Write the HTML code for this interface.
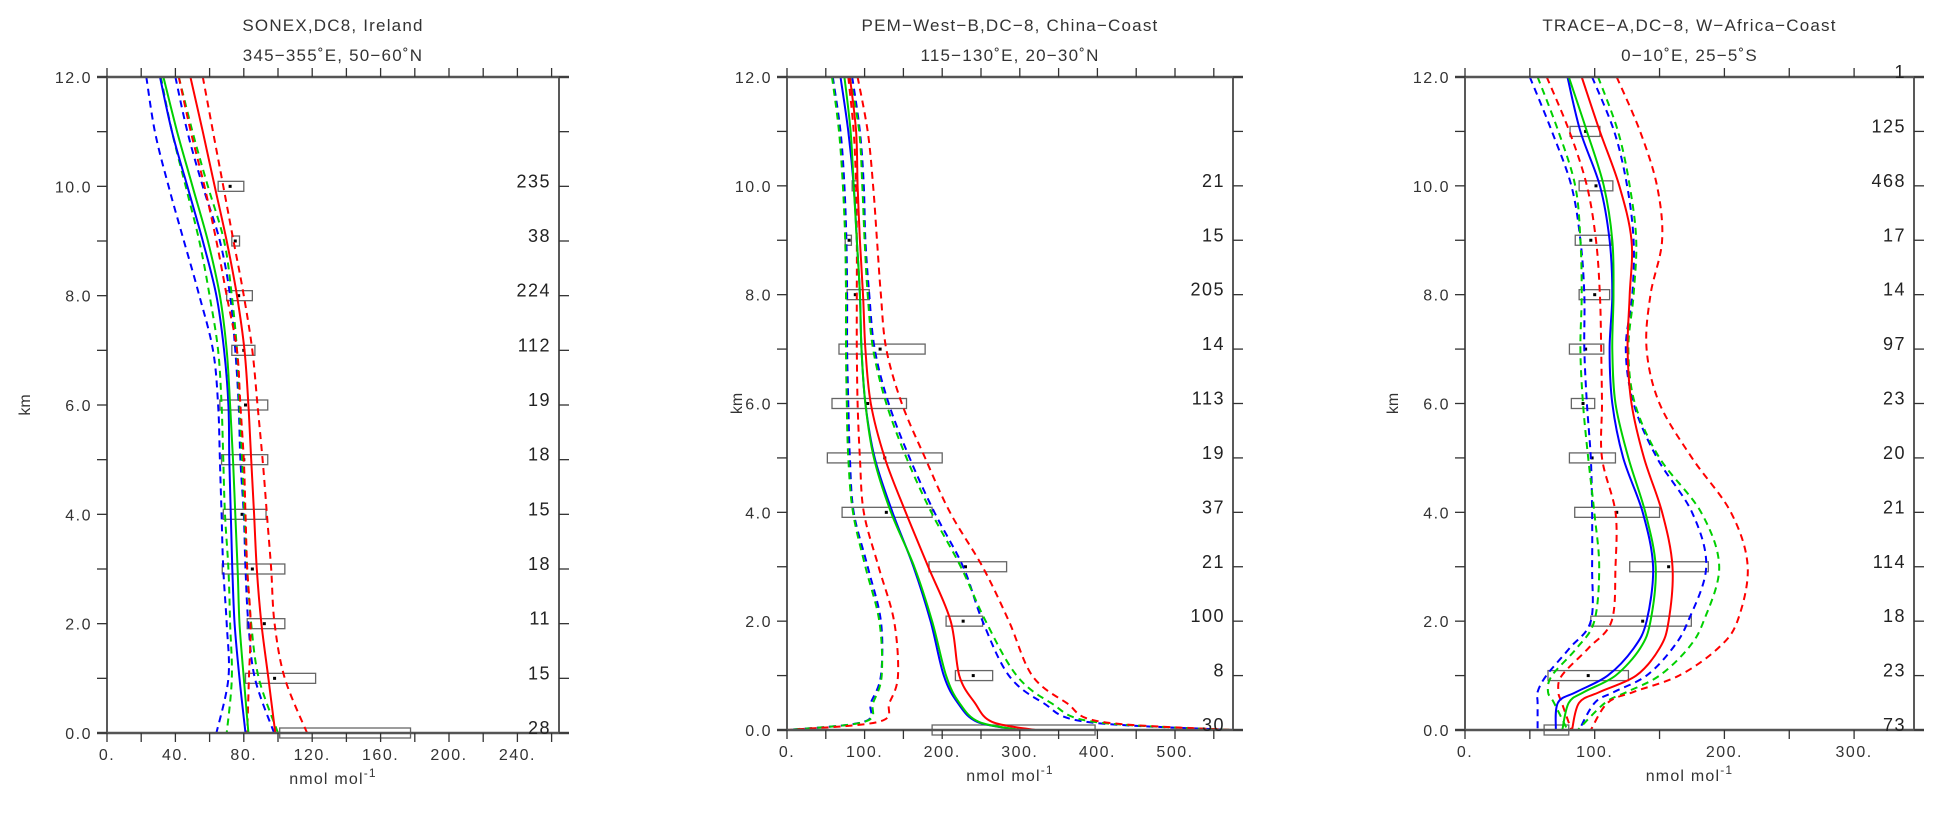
<!DOCTYPE html>
<html><head><meta charset="utf-8"><style>
html,body{margin:0;padding:0;background:#fff;}
svg{display:block;font-family:"Liberation Sans",sans-serif;}
</style></head><body>
<svg id="chart" width="1939" height="826" viewBox="0 0 1939 826" xmlns="http://www.w3.org/2000/svg"></svg>
<script>
// ---------- DATA ----------
const kmLevels = [12,11,10,9,8,7,6,5,4,3,2,1,0];
const kmLevelsP2 = [12,11,10,9,8,7,6,5,4,3,2,1,0.5,0.15,0];
const kmLevelsP3 = [12,11,10,9,8,7,6,5,4,3,2,1.5,1,0.7,0.5,0];

// Panel 1: SONEX
const p1BlueSolid  = [31,38,47,56,64,68.5,71,71.5,72.4,73.3,74.6,77.5,81];
const p1GreenSolid = [33,41,50,59,66,70,72,73.7,75,76.4,77.5,80,82.7];
const p1RedSolid   = [48.8,56,63,70,76,80.4,82.7,84.3,86,87.6,90.3,94.4,98.4];
const p1BlueLow    = [23,28,36,45,54,62,65,66,67,68,70,71,64];
const p1BlueHigh   = [40,47,56,66,72,75,77,78,80,81,82.7,86.5,97.7];
const p1GreenLow   = [31.5,38,46,54,60,65,67,68,69,71,72,73,70];
const p1GreenHigh  = [42,50,59,68.5,73,76,77.5,79,80.4,82,84.3,88.8,100];
const p1RedLow     = [42,49,57,64,70,76,78,80,81,82,84,83,82];
const p1RedHigh    = [56,62,68,74,80,85,88,91,93.5,96,98,104,117];
const p1BoxKm   = [10,9,8,7,6,5,4,3,2,1,0];
const p1BoxLo   = [65,73,70,73,66,67,68,67.4,82,81,101];
const p1BoxHi   = [80,77.5,85,86.5,94,94,93,104,104,122,177.5];
const p1BoxMid  = [72,75,77,80,81,80,79,85,92,98,null];
const p1CountKm = [10,9,8,7,6,5,4,3,2,1,0];
const p1Counts  = ["235","38","224","112","19","18","15","18","11","15","28"];
const p1XTicks  = [0,40,80,120,160,200,240];
const p1XLabels = ["0.","40.","80.","120.","160.","200.","240."];

// Panel 2: PEM-West-B
const p2BlueSolid  = [69,79,86,90,94,96,101,113,136,163,185,202,220,245,300];
const p2GreenSolid = [74,82,86,90,94,96,101,112,134,164,187,205,222,247,300];
const p2RedSolid   = [81,89,91,94,98,101,108,126,153,182,211,222,242,264,320];
const p2BlueLow    = [59,69,74,76.5,77.5,77.5,79,81,86,104,121,121,108,99,0];
const p2GreenLow   = [58,67,72,75,76,76,77,79,85,101,119,122,111,100,0];
const p2RedLow     = [79,86,89,90,90,90,91,94,99,118,138,143,132,118,0];
const p2BlueHigh   = [84,94,99,101,106,113,131,158,190,227,252,286,330,385,575];
const p2GreenHigh  = [81,93,97,100,104,111,128,154,186,224,256,296,340,395,575];
const p2RedHigh    = [91,104,111,116,121,128,148,178,210,252,286,316,360,405,575];
const p2BoxKm   = [10,9,8,7,6,5,4,3,2,1,0];
const p2BoxLo   = [84,75,77.5,67,58,52,71,183,205,217,187];
const p2BoxHi   = [91,83,106,178,154,200,187,283,252,265,397];
const p2BoxMid  = [88,80,88,120,104,126,128,230,227,240,null];
const p2CountKm = [10,9,8,7,6,5,4,3,2,1,0];
const p2Counts  = ["21","15","205","14","113","19","37","21","100","8","30"];
const p2XTicks  = [0,100,200,300,400,500];
const p2XLabels = ["0.","100.","200.","300.","400.","500."];

// Panel 3: TRACE-A
const p3BlueSolid  = [79,89,104,111.5,113.6,111.5,113.6,122,137,145,140,130,110,86,71.6,70];
const p3GreenSolid = [80,94,107,113.6,114.5,113.6,116,126,139,147,143,135,116,92,80,75];
const p3RedSolid   = [90,104,119,128.4,127,125.4,128.4,138,152,160,157,150,132,104,88,82.5];
const p3BlueLow    = [50,67,82,89,92,92,94,97,98,98,97,80.5,62.7,56,56,56];
const p3GreenLow   = [56,72,85,89,90,89,91,95,99.7,103.5,99.7,86,67,64,68.6,79];
const p3RedLow     = [63,80.5,94,101,104,105,105.6,105.6,116,116,113,95,74.6,72,74.6,82];
const p3BlueHigh   = [98,115,125,130,129,124,130,148,175,186,172,160,140,115,100,88];
const p3GreenHigh  = [102.6,118,127,132,130,126,131,150,182,196,184,172,150,125,108,87];
const p3RedHigh    = [117,135,148,152,143,140,150,175,205,218,210,195,165,130,110,97];
const p3BoxKm   = [11,10,9,8,7,6,5,4,3,2,1,0];
const p3BoxLo   = [81,88,85,88,80.5,82,80.5,84.6,127,97,64,61];
const p3BoxHi   = [104,114,113,111.5,107,100,116,150,187.6,174.5,126,80];
const p3BoxMid  = [93,101,97,100,93,91,98,117,157,137,95,null];
const p3CountKm = [12,11,10,9,8,7,6,5,4,3,2,1,0];
const p3Counts  = ["1","125","468","17","14","97","23","20","21","114","18","23","73"];
const p3XTicks  = [0,100,200,300];
const p3XLabels = ["0.","100.","200.","300."];

const yTicks  = [0,2,4,6,8,10,12];
const yLabels = ["0.0","2.0","4.0","6.0","8.0","10.0","12.0"];

// ---------- DRAW ----------
const NS = "http://www.w3.org/2000/svg";
const svg = document.getElementById("chart");
function mk(tag, attrs, parent){
  const e = document.createElementNS(NS, tag);
  for (const k in attrs) e.setAttribute(k, attrs[k]);
  (parent||svg).appendChild(e);
  return e;
}
function smoothPath(pts){
  let d = "M" + pts[0][0].toFixed(1) + "," + pts[0][1].toFixed(1);
  for (let i=0;i<pts.length-1;i++){
    const p0 = pts[Math.max(0,i-1)], p1 = pts[i], p2 = pts[i+1], p3 = pts[Math.min(pts.length-1,i+2)];
    const c1x = p1[0]+(p2[0]-p0[0])/6, c1y = p1[1]+(p2[1]-p0[1])/6;
    const c2x = p2[0]-(p3[0]-p1[0])/6, c2y = p2[1]-(p3[1]-p1[1])/6;
    d += " C"+c1x.toFixed(1)+","+c1y.toFixed(1)+" "+c2x.toFixed(1)+","+c2y.toFixed(1)+" "+p2[0].toFixed(1)+","+p2[1].toFixed(1);
  }
  return d;
}

const panels = [
  {id:"sonex", x0:107, x1:559, yt:77, yb:733, k:1.71, minor:20, title1:"SONEX,DC8, Ireland", title2:"345\u2212355\u02daE, 50\u221260\u02daN",
   km:kmLevels, series:[[p1BlueLow,"#0000ff",1],[p1BlueHigh,"#0000ff",1],[p1GreenLow,"#00d000",1],[p1GreenHigh,"#00d000",1],[p1RedLow,"#ff0000",1],[p1RedHigh,"#ff0000",1],[p1BlueSolid,"#0000ff",0],[p1GreenSolid,"#00d000",0],[p1RedSolid,"#ff0000",0]],
   boxKm:p1BoxKm, boxLo:p1BoxLo, boxHi:p1BoxHi, boxMid:p1BoxMid, countKm:p1CountKm, counts:p1Counts, xt:p1XTicks, xl:p1XLabels, kmX:30},
  {id:"pem-west-b", x0:787, x1:1233, yt:77, yb:730, k:0.776, minor:50, title1:"PEM\u2212West\u2212B,DC\u22128, China\u2212Coast", title2:"115\u2212130\u02daE, 20\u221230\u02daN",
   km:kmLevelsP2, series:[[p2BlueLow,"#0000ff",1],[p2BlueHigh,"#0000ff",1],[p2GreenLow,"#00d000",1],[p2GreenHigh,"#00d000",1],[p2RedLow,"#ff0000",1],[p2RedHigh,"#ff0000",1],[p2BlueSolid,"#0000ff",0],[p2GreenSolid,"#00d000",0],[p2RedSolid,"#ff0000",0]],
   boxKm:p2BoxKm, boxLo:p2BoxLo, boxHi:p2BoxHi, boxMid:p2BoxMid, countKm:p2CountKm, counts:p2Counts, xt:p2XTicks, xl:p2XLabels, kmX:742},
  {id:"trace-a", x0:1465, x1:1914, yt:77, yb:730, k:1.297, minor:50, title1:"TRACE\u2212A,DC\u22128, W\u2212Africa\u2212Coast", title2:"0\u221210\u02daE, 25\u22125\u02daS",
   km:kmLevelsP3, series:[[p3BlueLow,"#0000ff",1],[p3BlueHigh,"#0000ff",1],[p3GreenLow,"#00d000",1],[p3GreenHigh,"#00d000",1],[p3RedLow,"#ff0000",1],[p3RedHigh,"#ff0000",1],[p3BlueSolid,"#0000ff",0],[p3GreenSolid,"#00d000",0],[p3RedSolid,"#ff0000",0]],
   boxKm:p3BoxKm, boxLo:p3BoxLo, boxHi:p3BoxHi, boxMid:p3BoxMid, countKm:p3CountKm, counts:p3Counts, xt:p3XTicks, xl:p3XLabels, kmX:1398}
];
const seriesNames = ["blue-lower-dashed","blue-upper-dashed","green-lower-dashed","green-upper-dashed","red-lower-dashed","red-upper-dashed","blue-mean-line","green-mean-line","red-mean-line"];

panels.forEach(P=>{
  const g = mk("g",{});
  
  
  const X = v => P.x0 + v*P.k;
  const Y = km => P.yb - km*(P.yb-P.yt)/12;
  const cx = (P.x0+P.x1)/2;
  const xmax = (P.x1-P.x0)/P.k;

  let t = mk("text",{x:cx,y:31,"text-anchor":"middle","font-size":17,fill:"#333","letter-spacing":"1.2"},g);
  t.textContent = P.title1;
  
  
  t = mk("text",{x:cx,y:61,"text-anchor":"middle","font-size":17,fill:"#333","letter-spacing":"1.2"},g);
  t.textContent = P.title2;
  
  

  // boxes
  P.boxKm.forEach((km,i)=>{
    const r = mk("rect",{x:X(P.boxLo[i]),y:Y(km)-5,width:X(P.boxHi[i])-X(P.boxLo[i]),height:10,fill:"none",stroke:"#666","stroke-width":1.3},g);
    
    
    if (P.boxMid[i]!==null){
      const d = mk("rect",{x:X(P.boxMid[i])-1.5,y:Y(km)-1.5,width:3,height:3,fill:"#000"},g);
      
      
    }
  });

  // curves
  P.series.forEach((s,si)=>{
    const pts = s[0].map((v,i)=>[X(Math.min(v,xmax)),Y(P.km[i])]);
    const p = mk("path",{d:smoothPath(pts),fill:"none",stroke:s[1],"stroke-width":2},g);
    if (s[2]) p.setAttribute("stroke-dasharray","7 5");
    
    
  });

  // frame
  let l = mk("line",{x1:P.x0,y1:P.yt,x2:P.x0,y2:P.yb,stroke:"#222","stroke-width":1.5},g);
  
  
  l = mk("line",{x1:P.x1,y1:P.yt,x2:P.x1,y2:P.yb,stroke:"#222","stroke-width":1.5},g);
  
  
  l = mk("line",{x1:P.x0-10,y1:P.yt,x2:P.x1+10,y2:P.yt,stroke:"#555","stroke-width":2.5},g);
  
  
  l = mk("line",{x1:P.x0-10,y1:P.yb,x2:P.x1+10,y2:P.yb,stroke:"#555","stroke-width":2.5},g);
  
  

  // y ticks
  for (let km=0; km<=12; km++){
    const y = Y(km);
    mk("line",{x1:P.x0-10,y1:y,x2:P.x0,y2:y,stroke:"#333","stroke-width":1.3},g);
    mk("line",{x1:P.x1,y1:y,x2:P.x1+10,y2:y,stroke:"#333","stroke-width":1.3},g);
  }
  yTicks.forEach((km,i)=>{
    const tl = mk("text",{x:P.x0-15,y:Y(km)+6,"text-anchor":"end","font-size":16,fill:"#333","letter-spacing":"1.5"},g);
    tl.textContent = yLabels[i];
    
    
  });
  // x ticks
  for (let v=0; v<=xmax+0.01; v+=P.minor){
    const x = X(v);
    mk("line",{x1:x,y1:P.yb,x2:x,y2:P.yb+9,stroke:"#333","stroke-width":1.3},g);
    mk("line",{x1:x,y1:P.yt-9,x2:x,y2:P.yt,stroke:"#333","stroke-width":1.3},g);
  }
  P.xt.forEach((v,i)=>{
    const tl = mk("text",{x:X(v),y:P.yb+27,"text-anchor":"middle","font-size":16,fill:"#333","letter-spacing":"1.5"},g);
    tl.textContent = P.xl[i];
    
    
  });
  // counts
  P.countKm.forEach((km,i)=>{
    const tc = mk("text",{x:P.x1-8,y:Y(km)+1,"text-anchor":"end","font-size":18,fill:"#222","letter-spacing":"1.5"},g);
    tc.textContent = P.counts[i];
    
    
  });
  // axis titles
  const xt = mk("text",{x:cx,y:P.yb+51,"text-anchor":"middle","font-size":16,fill:"#333","letter-spacing":"1.2"},g);
  xt.innerHTML = 'nmol mol<tspan dy="-7" font-size="12">-1</tspan>';
  
  
  const ym = (P.yt+P.yb)/2;
  const yt = mk("text",{x:P.kmX,y:ym,"text-anchor":"middle","font-size":16,fill:"#333",transform:"rotate(-90 "+P.kmX+" "+ym+")"},g);
  yt.textContent = "km";
  
  
});
</script>
</body></html>
